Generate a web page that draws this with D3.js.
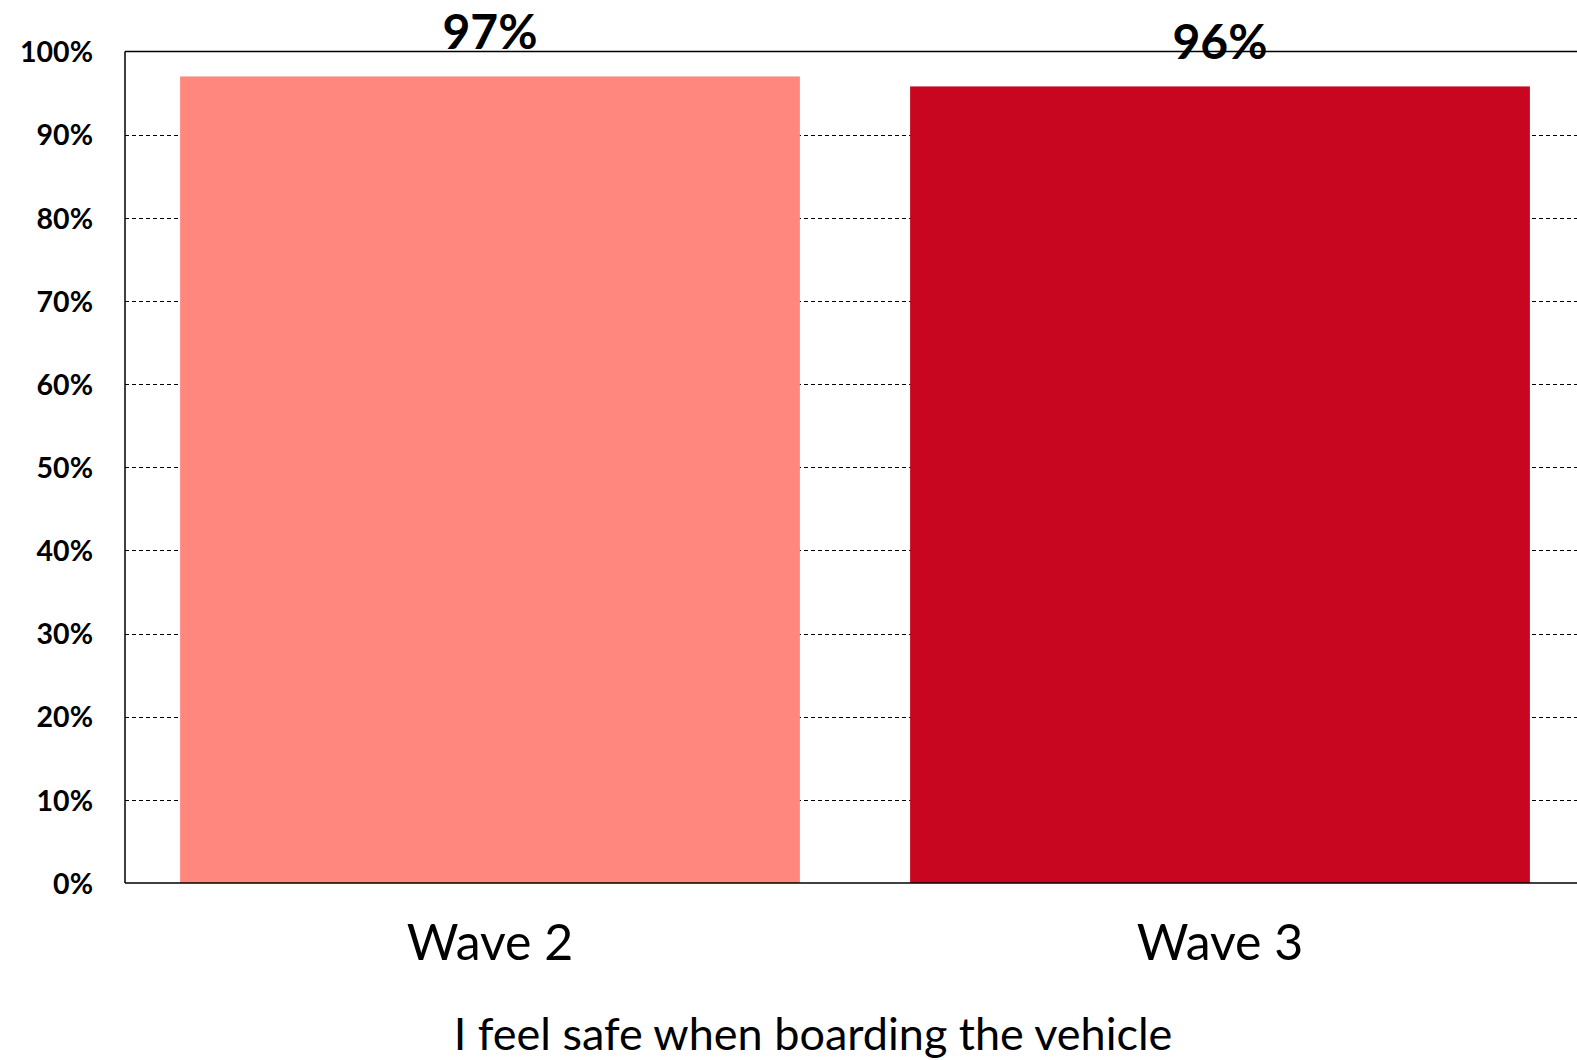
<!DOCTYPE html>
<html><head><meta charset="utf-8">
<script src="https://cdn.jsdelivr.net/npm/d3@7"></script>
<style>html,body{margin:0;padding:0;background:#fff;overflow:hidden}</style>
</head><body>
<svg id="chart" width="1577" height="1060"></svg>
<script>
const categories = ["Wave 2", "Wave 3"];
const values = [97.0, 95.8];
const valueLabels = ["97%", "96%"];
const barColors = ["#FF877D", "#C80620"];
const yTicks = [0, 10, 20, 30, 40, 50, 60, 70, 80, 90, 100];
const xTitle = "I feel safe when boarding the vehicle";

(function () {
const svg = d3.select("#chart");
const mLeft = 125, mTop = 51.5, mBottom = 883, rightExt = 1585;
const font = "Lato, 'Open Sans', sans-serif";

const x = d3.scaleBand().domain(categories).range([mLeft, rightExt]).paddingInner(0.151).paddingOuter(0.0755);
const y = d3.scaleLinear().domain([0, 100]).range([mBottom, mTop]);

// gridlines
svg.append("g").selectAll("line").data(yTicks.filter(t => t > 0 && t < 100)).join("line")
  .attr("x1", mLeft).attr("x2", 1577)
  .attr("y1", d => Math.round(y(d)) + 0.5).attr("y2", d => Math.round(y(d)) + 0.5)
  .attr("stroke", "#000").attr("stroke-width", 1).attr("stroke-dasharray", "4,3");

// bars
svg.append("g").selectAll("rect").data(categories).join("rect")
  .attr("x", d => x(d)).attr("width", x.bandwidth())
  .attr("y", (d, i) => y(values[i])).attr("height", (d, i) => mBottom - y(values[i]))
  .attr("fill", (d, i) => barColors[i]);

// frame
svg.append("line").attr("x1", mLeft).attr("x2", 1577).attr("y1", mTop).attr("y2", mTop).attr("stroke", "#000").attr("stroke-width", 1.5);
svg.append("line").attr("x1", mLeft).attr("x2", 1577).attr("y1", mBottom).attr("y2", mBottom).attr("stroke", "#000").attr("stroke-width", 1.5);
svg.append("line").attr("x1", mLeft).attr("x2", mLeft).attr("y1", mTop).attr("y2", mBottom).attr("stroke", "#000").attr("stroke-width", 1.5);

// y axis labels
const yAxis = d3.axisLeft(y).tickValues(yTicks).tickFormat(d => d + "%").tickSize(0).tickPadding(0);
const ya = svg.append("g").attr("transform", `translate(93,0)`).call(yAxis);
ya.select(".domain").remove();
ya.selectAll("text").attr("font-family", font).attr("font-weight", "bold").attr("font-size", 28.5)
  .attr("fill", "#000").attr("dy", "0.36em");

// category labels
const xAxis = d3.axisBottom(x).tickSize(0).tickPadding(0);
const xa = svg.append("g").attr("transform", `translate(0,${mBottom})`).call(xAxis);
xa.select(".domain").remove();
xa.selectAll("text").attr("font-family", font).attr("font-size", 50).attr("fill", "#000")
  .attr("dy", 0).attr("y", 77);

// value labels
svg.append("g").selectAll("text").data(categories).join("text")
  .attr("x", d => x(d) + x.bandwidth() / 2)
  .attr("y", (d, i) => y(values[i]) - 27)
  .attr("text-anchor", "middle").attr("font-family", font).attr("font-weight", "bold")
  .attr("font-size", 48).attr("fill", "#000").text((d, i) => valueLabels[i]);

// title
svg.append("text").attr("x", 813).attr("y", 1050).attr("text-anchor", "middle")
  .attr("font-family", font).attr("font-size", 45).attr("fill", "#000").text(xTitle);
})();
</script>
</body></html>
